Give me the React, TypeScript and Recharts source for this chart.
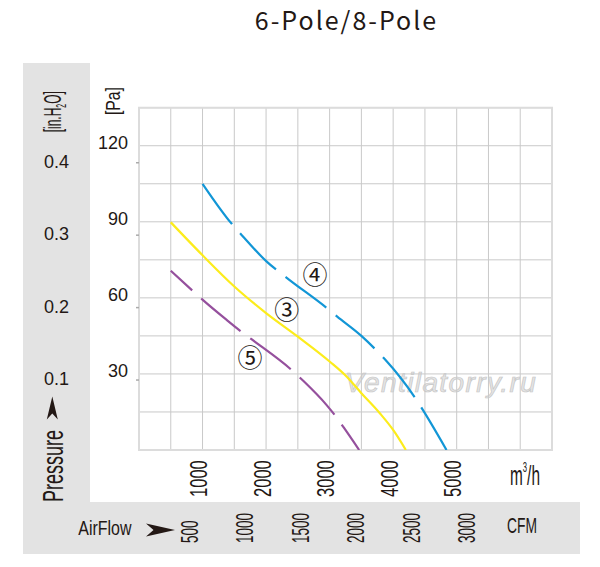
import React from 'react';
import { LineChart, Line, XAxis, YAxis, CartesianGrid, ReferenceDot, ReferenceArea } from 'recharts';

const title = '6-Pole/8-Pole';

// axis ticks
const m3Ticks = [0, 500, 1000, 1500, 2000, 2500, 3000, 3500, 4000, 4500, 5000, 5500, 6000, 6500];
const m3Labels = [1000, 2000, 3000, 4000, 5000];
const cfmTicks = [500, 1000, 1500, 2000, 2500, 3000];
const paTicks = [0, 15, 30, 45, 60, 75, 90, 105, 120, 135];
const paLabels = [30, 60, 90, 120];
const inTicks = [0.1, 0.2, 0.3, 0.4];

// rows for the CFM scale (its tick labels)
const cfmRows = cfmTicks.map((c) => ({ cfm: c }));

// curves: q = airflow m3/h, p = pressure Pa
const curve4 = [
  { q: 1000, p: 105 },
  { q: 1460, p: 89.2 },
  { q: 1590, p: 85.5 },
  { q: 2010, p: 74.3 },
  { q: 2310, p: 68.2 },
  { q: 2960, p: 55.9 },
  { q: 3120, p: 52.6 },
  { q: 3500, p: 45 },
  { q: 3740, p: 39.2 },
  { q: 3870, p: 35.8 },
  { q: 4350, p: 20.4 },
  { q: 4450, p: 16.5 },
  { q: 4840, p: 0 },
];
const curve3 = [
  { q: 500, p: 89.8 },
  { q: 1000, p: 76.8 },
  { q: 1500, p: 64.5 },
  { q: 2000, p: 54 },
  { q: 2500, p: 44.7 },
  { q: 3000, p: 34.9 },
  { q: 3270, p: 28.9 },
  { q: 3500, p: 22.4 },
  { q: 3790, p: 14.5 },
  { q: 4000, p: 7.9 },
  { q: 4200, p: 0 },
];
const curve5 = [
  { q: 500, p: 70.7 },
  { q: 840, p: 62.9 },
  { q: 990, p: 59.5 },
  { q: 1380, p: 51.3 },
  { q: 1620, p: 46.5 },
  { q: 1770, p: 43.7 },
  { q: 2440, p: 30.7 },
  { q: 2580, p: 27.4 },
  { q: 2950, p: 17.8 },
  { q: 3120, p: 12.5 },
  { q: 3230, p: 8.6 },
  { q: 3465, p: 0 },
];
const curveLabels = [
  { text: '④', q: 2770, p: 69.1 },
  { text: '③', q: 2325, p: 55.3 },
  { text: '⑤', q: 1747, p: 36.2 },
];

const INK = '#231815';
const SANS = '"Liberation Sans", Arial, sans-serif';
const GREY = '#e3e3e3';

const PaTick = (props: any) => {
  const { y, payload } = props;
  if (!paLabels.includes(payload.value)) return <g />;
  return (
    <text x={128} y={y + 3} textAnchor="end" fontSize={18} fill={INK} fontFamily={SANS}>
      {payload.value}
    </text>
  );
};

const InTick = (props: any) => {
  const { y, payload } = props;
  return (
    <g>
      <line x1={136} x2={139} y1={y} y2={y} stroke="#aaaaaa" strokeWidth={1.5} />
      <text x={56.5} y={y + 5} textAnchor="middle" fontSize={18} fill={INK} fontFamily={SANS}>
        {Number(payload.value).toFixed(1)}
      </text>
    </g>
  );
};

const M3Tick = (props: any) => {
  const { x, payload } = props;
  if (!m3Labels.includes(payload.value)) return <g />;
  return (
    <text
      transform={`translate(${x + 4.6},497) rotate(-90) scale(0.69,1)`}
      fontSize={24}
      fill={INK}
      fontFamily={SANS}
    >
      {payload.value}
    </text>
  );
};

const CfmTick = (props: any) => {
  const { x, payload } = props;
  return (
    <text
      transform={`translate(${x + 8.6},543) rotate(-90) scale(0.56,1)`}
      fontSize={24}
      fill={INK}
      fontFamily={SANS}
    >
      {payload.value}
    </text>
  );
};

export default function App() {
  const abs: React.CSSProperties = { position: 'absolute', left: 0, top: 0 };
  return (
    <div style={{ position: 'absolute', left: 0, top: 0, width: 600, height: 567, background: '#fff', overflow: 'hidden' }}>
      <div style={{ position: 'absolute', left: 23, top: 63, width: 67, height: 439, background: GREY }} />
      <div style={{ position: 'absolute', left: 23, top: 502, width: 557, height: 52, background: GREY }} />
      <svg width={600} height={567} style={abs}>
        <text
          x={345}
          y={391.5}
          fontSize={28}
          fontStyle="italic"
          fontFamily={SANS}
          letterSpacing={1.4}
          fill="#e4e4e4"
          stroke="#c6c6c6"
          strokeWidth={0.7}
        >
          Ventilatorry.ru
        </text>
      </svg>
      <div style={abs}>
        <LineChart width={600} height={567} data={cfmRows} margin={{ top: 107.7, right: 48, bottom: 13, left: 24 }}>
          <CartesianGrid xAxisId="m3" yAxisId="pa" stroke="#c9c9c9" strokeWidth={1} />
          <XAxis
            xAxisId="m3"
            type="number"
            dataKey="q"
            domain={[0, 6500]}
            ticks={m3Ticks}
            interval={0}
            height={52}
            axisLine={false}
            tickLine={false}
            tick={M3Tick}
            allowDataOverflow
          />
          <XAxis
            xAxisId="cfm"
            type="number"
            dataKey="cfm"
            domain={[45, 3770]}
            ticks={cfmTicks}
            interval={0}
            height={52}
            axisLine={false}
            tickLine={false}
            tick={CfmTick}
            allowDataOverflow
          />
          <YAxis
            yAxisId="pa"
            type="number"
            domain={[0, 135]}
            ticks={paTicks}
            interval={0}
            width={49}
            axisLine={false}
            tickLine={false}
            tick={PaTick}
            allowDataOverflow
          />
          <YAxis
            yAxisId="in"
            type="number"
            domain={[0.0034, 0.476]}
            ticks={inTicks}
            interval={0}
            width={66}
            axisLine={false}
            tickLine={false}
            tick={InTick}
            allowDataOverflow
          />
          <ReferenceArea
            xAxisId="m3"
            yAxisId="pa"
            x1={0}
            x2={6500}
            y1={0}
            y2={135}
            fill="none"
            stroke="#dcdcdc"
            strokeWidth={2}
            ifOverflow="visible"
          />
          <Line
            xAxisId="m3"
            yAxisId="pa"
            data={curve5}
            dataKey="p"
            type="monotone"
            stroke="#95509d"
            strokeWidth={2.2}
            strokeDasharray="51 12.2"
            strokeDashoffset={22}
            dot={false}
            activeDot={false}
            isAnimationActive={false}
          />
          <Line
            xAxisId="m3"
            yAxisId="pa"
            data={curve3}
            dataKey="p"
            type="monotone"
            stroke="#fcec1c"
            strokeWidth={2.2}
            dot={false}
            activeDot={false}
            isAnimationActive={false}
          />
          <Line
            xAxisId="m3"
            yAxisId="pa"
            data={curve4}
            dataKey="p"
            type="monotone"
            stroke="#1296d6"
            strokeWidth={2.2}
            strokeDasharray="51 12.2"
            strokeDashoffset={1}
            dot={false}
            activeDot={false}
            isAnimationActive={false}
          />
          {curveLabels.map((c) => (
            <ReferenceDot
              key={c.text}
              xAxisId="m3"
              yAxisId="pa"
              x={c.q}
              y={c.p}
              r={0}
              fill="none"
              stroke="none"
              label={{
                value: c.text,
                position: 'center',
                fontSize: 25,
                fill: INK,
                fontFamily: '"Noto Sans CJK JP", "DejaVu Sans", sans-serif',
              }}
            />
          ))}
        </LineChart>
      </div>
      <svg width={600} height={567} style={{ ...abs, pointerEvents: 'none' }}>
        <text
          x={346.5}
          y={30}
          textAnchor="middle"
          fontSize={25}
          letterSpacing={2}
          fill={INK}
          fontFamily='"Noto Sans CJK SC", "Noto Sans", sans-serif'
        >
          {title}
        </text>
        <text transform="translate(120,101) rotate(-90) scale(0.75,1)" textAnchor="middle" fontSize={21} fill={INK} fontFamily={SANS}>
          [Pa]
        </text>
        <text transform="translate(61,111.7) rotate(-90) scale(0.5,1)" textAnchor="middle" fontSize={24} fill={INK} fontFamily={SANS}>
          [in.H<tspan fontSize={14} dy={5}>2</tspan>
          <tspan dy={-5}>O]</tspan>
        </text>
        <text transform="translate(62.5,502) rotate(-90) scale(0.62,1)" fontSize={29} fill={INK} fontFamily={SANS}>
          Pressure
        </text>
        <path d="M52.3 396.5 L57.8 419.5 L52.3 413.5 L46.8 419.5 Z" fill={INK} />
        <text transform="translate(78.3,535) scale(0.76,1)" fontSize={21} fill={INK} fontFamily={SANS}>
          AirFlow
        </text>
        <path d="M175 530 L146 523.5 L153.5 530 L146 536.5 Z" fill={INK} />
        <text transform="translate(510,485) scale(0.55,1)" fontSize={28} fill={INK} fontFamily={SANS}>
          m<tspan fontSize={14} dy={-13}>3</tspan>
          <tspan dy={13}>/h</tspan>
        </text>
        <text transform="translate(507,533) scale(0.63,1)" fontSize={22} fill={INK} fontFamily={SANS}>
          CFM
        </text>
      </svg>
    </div>
  );
}
